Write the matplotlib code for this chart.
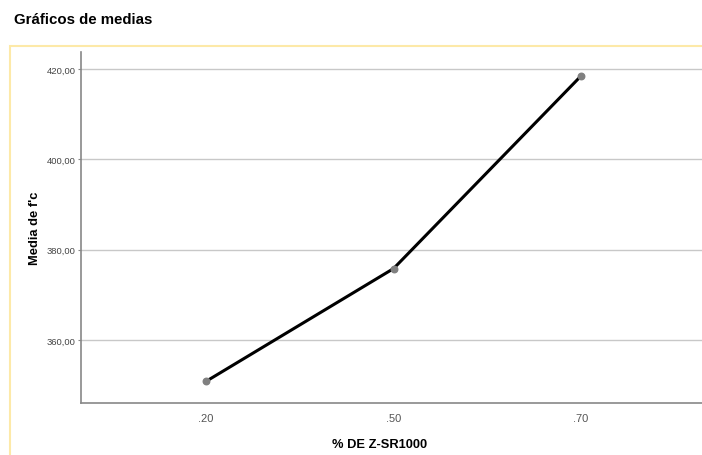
import matplotlib.pyplot as plt
from matplotlib.patches import Rectangle

plt.rcParams['font.family'] = ['Liberation Sans', 'DejaVu Sans']

categories = ['.20', '.50', '.70']
means = [350.8, 375.8, 418.5]
yticks = [360, 380, 400, 420]

W, H = 702, 456
fig = plt.figure(figsize=(W / 100, H / 100), dpi=100)

# yellow outer frame like the SPSS viewer
fig.patches.append(Rectangle((10 / W, -0.1), 1.0, 1 - 47 / H + 0.1,
                             transform=fig.transFigure, fill=False,
                             edgecolor='#fde9a8', linewidth=1.5))
fig.text(14 / W, 1 - 20 / H, 'Gráficos de medias', fontsize=10.8,
         fontweight='bold', va='center', ha='left')

ax = fig.add_axes([81 / W, 1 - 404 / H, (W - 81) / W, (404 - 53) / H])
x = list(range(len(categories)))
ax.plot(x, means, color='black', linewidth=2.2, zorder=3)
ax.scatter(x, means, color='#808080', s=22, zorder=4)

ax.set_xlim(-0.667, 2.645)
ax.set_ylim(346.0, 423.8)
ax.set_xticks(x)
ax.set_xticklabels(categories)
ax.set_yticks(yticks)
ax.set_yticklabels([f'{v:.2f}'.replace('.', ',') for v in yticks])
ax.grid(axis='y', color='#c8c8c8', linewidth=1)
ax.set_axisbelow(True)

for s in ['top', 'right']:
    ax.spines[s].set_visible(False)
for s in ['left', 'bottom']:
    ax.spines[s].set_color('#888888')
    ax.spines[s].set_linewidth(1.2)

ax.tick_params(axis='y', labelsize=6.8, labelcolor='#444444', length=2, pad=2, color='#888888')
ax.tick_params(axis='x', labelsize=8, labelcolor='#555555', length=0, pad=7)
ax.set_xlabel('% DE Z-SR1000', fontsize=9.3, fontweight='bold')
ax.xaxis.set_label_coords(0.481, -0.1)
ax.set_ylabel("Media de f'c", fontsize=9.3, fontweight='bold', labelpad=4)

fig.savefig('out.png', dpi=100)
